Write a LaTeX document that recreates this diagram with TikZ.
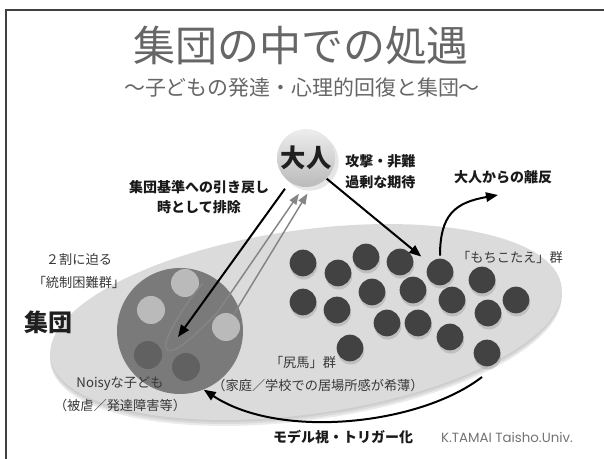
\documentclass[tikz,border=0pt]{standalone}
\usepackage{fontspec}
\setmainfont{Noto Sans CJK JP}
\newfontfamily\signfont{Poppins}
\usetikzlibrary{arrows.meta,shadows}

\begin{document}
\begin{tikzpicture}[x=0.75pt, y=-0.75pt,
      every node/.style = {inner sep=0pt, align=center},
      label text/.style = {font=\fontsize{9.9pt}{17pt}\selectfont, text=black!78},
      bold text/.style = {font=\fontsize{10.5pt}{15.5pt}\selectfont\bfseries, text=black!90},
      member/.style = {circle, fill=black!74, minimum size=20pt,
        drop shadow={shadow xshift=0.6pt, shadow yshift=-2.4pt, opacity=0.3}},
      light member/.style = {circle, fill=black!27, minimum size=21pt},
      noisy member/.style = {circle, fill=black!62, minimum size=21pt},
      thick arrow/.style = {line width=1.5pt, -{Triangle[length=9pt,width=7pt]}},
      gray arrow/.style = {draw=black!48, line width=1.1pt, -{Triangle[length=8pt,width=6pt]}}]
  \useasboundingbox (0,0) rectangle (604,459);
  \draw[black!75, line width=1.2pt] (6,459) -- (6,10) -- (604,10);

  % titles
  \node[text=black!60, font=\fontsize{31.5pt}{32pt}\selectfont] (title) at (301,46) {集団の中での処遇};
  \node[text=black!60, font=\fontsize{15.7pt}{16pt}\selectfont] (subtitle) at (302,88) {～子どもの発達・心理的回復と集団～};

  % the group
  \foreach \s in {2,4,6}
    \fill[black!40, opacity=0.2, rotate around={8:(306,322+\s)}] (306,322+\s) ellipse [x radius=193.5pt, y radius=69pt];
  \fill[black!14, rotate around={8:(306,322)}] (306,322) ellipse [x radius=193.5pt, y radius=69pt];

  \node[circle, fill=black!52, minimum size=94.5pt] (group) at (180,331) {};
  \foreach \name/\pos in {l1/{(185,283)}, l2/{(151,310)}, l3/{(226,327)}}
    \node[light member] (\name) at \pos {};
  \foreach \name/\pos in {n1/{(148,355)}, n2/{(186,367)}}
    \node[noisy member] (\name) at \pos {};
  \foreach \pos [count=\i] in {(303,263),(338,273),(366,257),(400,262),(440,272),(482,280),
      (303,302),(337,310),(372,292),(413,290),(452,300),(488,313),(516,300),
      (387,323),(418,323),(450,337),(350,348),(487,353)}
    \node[member] (d\i) at \pos {};

  \node[circle, minimum size=43.5pt, top color=black!7, bottom color=black!27,
    drop shadow={opacity=0.2}, font=\fontsize{19pt}{19pt}\selectfont\bfseries, text=black!88] (adult) at (306,158) {大人};

  % labels
  \node[bold text, anchor=west, align=left] (attack) at (345,172) {攻撃・非難\\過剰な期待};
  \node[bold text] (rifan) at (503,177) {大人からの離反};
  \node[bold text] (pullback) at (199,197) {集団基準への引き戻し\\時として排除};
  \node[label text] (ratio) at (79,271) {２割に迫る\\「統制困難群」};
  \node[font=\fontsize{18pt}{18pt}\selectfont\bfseries, text=black!88] (shudan) at (49,322) {集団};
  \node[label text] (noisy) at (120,394) {Noisyな子ども\\（被虐／発達障害等）};
  \node[label text] (shiri) at (303,362) {「尻馬」群};
  \node[label text] (shiri note) at (318,385) {（家庭／学校での居場所感が希薄）};
  \node[label text] (mochi) at (510,257) {「もちこたえ」群};
  \node[bold text] (trigger) at (343,437) {モデル視・トリガー化};
  \node[font=\signfont\fontsize{10pt}{10pt}\selectfont, text=black!55] (sign) at (507,437) {K.TAMAI Taisho.Univ.};

  % connectors
  \coordinate (pull) at (178,337);
  \coordinate (loop) at (203,283);
  \coordinate (away) at (498,195);
  \coordinate (model) at (482,377);
  \draw[gray arrow, shorten >=6pt] (loop) .. controls (180,310) and (160,345) .. (167,350)
    .. controls (175,355) and (195,335) .. (217,313) -- (adult.-95);
  \draw[gray arrow, shorten >=6pt] (l3) -- (adult.-79);
  \draw[thick arrow, shorten <=6pt] (adult.-124) -- (pull);
  \draw[thick arrow, shorten >=8pt] (adult.-45) -- (d5);
  \draw[thick arrow, shorten <=2pt] (d5.north) to[out=90, in=190, looseness=1.3] (away);
  \draw[thick arrow] (model) .. controls (420,425) and (280,440) .. (group.-68);
\end{tikzpicture}
\end{document}
